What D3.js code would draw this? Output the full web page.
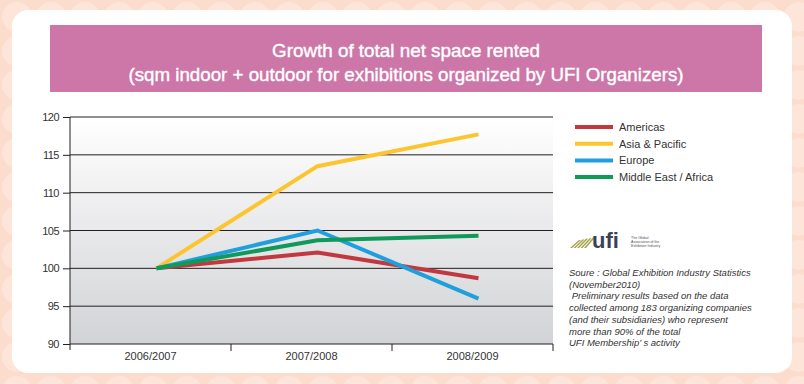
<!DOCTYPE html>
<html>
<head>
<meta charset="utf-8">
<script src="https://cdn.jsdelivr.net/npm/d3@7"></script>
<style>
  html, body { margin: 0; padding: 0; background: #fde1d3; }
  svg { display: block; }
</style>
</head>
<body>
<div id="chart"></div>
<script>
// data
const categories = ["2006/2007", "2007/2008", "2008/2009"];
const americas = [100, 102.1, 98.7];
const asiaPacific = [100, 113.5, 117.7];
const europe = [100, 105.0, 96.0];
const middleEast = [100, 103.7, 104.3];
const yTicks = [90, 95, 100, 105, 110, 115, 120];

const seriesNames = ["Americas", "Asia & Pacific", "Europe", "Middle East / Africa"];
const seriesColors = ["#c1393f", "#fcc52f", "#1fa0dc", "#10995a"];
const seriesValues = [americas, asiaPacific, europe, middleEast];

const sourceLines = [
    "Soure : Global Exhibition Industry Statistics",
    "(November2010)",
    " Preliminary results based on the data",
    "collected among 183 organizing companies",
    "(and their subsidiaries) who represent",
    "more than 90% of the total",
    "UFI Membership\u2019 s activity"
];

const width = 804, height = 384;
const svg = d3.select("#chart").append("svg")
    .attr("width", width)
    .attr("height", height);

const defs = svg.append("defs");

// peach background with faint circles
const pat = defs.append("pattern")
    .attr("id", "dots")
    .attr("width", 34).attr("height", 34)
    .attr("patternUnits", "userSpaceOnUse");
pat.append("rect").attr("width", 34).attr("height", 34).attr("fill", "#fcdccc");
pat.append("circle").attr("cx", 17).attr("cy", 17).attr("r", 15).attr("fill", "#fde5d9");

svg.append("rect")
    .attr("width", width).attr("height", height)
    .attr("fill", "url(#dots)");

// white card
svg.append("rect")
    .attr("x", 12).attr("y", 10)
    .attr("width", 780).attr("height", 363)
    .attr("rx", 16)
    .attr("fill", "#ffffff");

// title banner
svg.append("rect")
    .attr("x", 50).attr("y", 25)
    .attr("width", 712).attr("height", 67)
    .attr("fill", "#cc77a8");

const titleLines = [
    ["Growth of total net space rented", 57, 268],
    ["(sqm indoor + outdoor for exhibitions organized by UFI Organizers)", 81, 555]
];
svg.append("g")
    .selectAll("text")
    .data(titleLines)
    .enter()
    .append("text")
    .attr("x", 406).attr("y", d => d[1])
    .attr("text-anchor", "middle")
    .attr("font-family", "Liberation Sans, Arial, sans-serif")
    .attr("font-size", 19)
    .attr("fill", "#ffffff")
    .attr("stroke", "#ffffff")
    .attr("stroke-width", 0.4)
    .attr("textLength", d => d[2])
    .attr("lengthAdjust", "spacingAndGlyphs")
    .text(d => d[0]);

// plot
const plot = {left: 70, right: 553, top: 117, bottom: 344};

const x = d3.scaleBand()
    .domain(categories)
    .range([plot.left, plot.right]);

const y = d3.scaleLinear()
    .domain([90, 120])
    .range([plot.bottom, plot.top]);

const grad = defs.append("linearGradient")
    .attr("id", "plotbg")
    .attr("x1", "0%").attr("x2", "0%")
    .attr("y1", "0%").attr("y2", "100%");
grad.append("stop").attr("offset", "0%").attr("stop-color", "#ffffff");
grad.append("stop").attr("offset", "100%").attr("stop-color", "#d2d3d6");

svg.append("rect")
    .attr("x", plot.left).attr("y", plot.top)
    .attr("width", plot.right - plot.left)
    .attr("height", plot.bottom - plot.top)
    .attr("fill", "url(#plotbg)");

// gridlines
svg.append("g")
    .selectAll("line")
    .data(yTicks.filter(d => d !== 90))
    .enter()
    .append("line")
    .attr("x1", plot.left).attr("x2", plot.right)
    .attr("y1", d => y(d)).attr("y2", d => y(d))
    .attr("stroke", "#231f20")
    .attr("stroke-width", 1);

// y axis
const yAxis = svg.append("g")
    .attr("transform", `translate(${plot.left},0)`)
    .call(d3.axisLeft(y).tickValues(yTicks).tickSize(7).tickPadding(4));
yAxis.selectAll("path, line").attr("stroke", "#231f20");
yAxis.select(".domain").attr("d", `M0,${plot.top}V${plot.bottom + 6}`);
yAxis.selectAll("text")
    .attr("font-family", "Liberation Sans, Arial, sans-serif")
    .attr("font-size", 11)
    .attr("fill", "#333")
    .attr("letter-spacing", "-0.5");

// x axis
const xAxis = svg.append("g")
    .attr("transform", `translate(0,${plot.bottom})`)
    .call(d3.axisBottom(x).tickSize(0).tickPadding(6));
xAxis.select(".domain").attr("d", `M${plot.left},0H${plot.right}`).attr("stroke", "#231f20");
xAxis.selectAll("text")
    .attr("font-family", "Liberation Sans, Arial, sans-serif")
    .attr("font-size", 11)
    .attr("fill", "#333")
    .attr("dy", "0.9em");
xAxis.selectAll(".sep")
    .data(categories.slice(1).concat(["end"]))
    .enter()
    .append("line")
    .attr("x1", (d, i) => plot.left + x.bandwidth() * (i + 1))
    .attr("x2", (d, i) => plot.left + x.bandwidth() * (i + 1))
    .attr("y1", 0).attr("y2", 7)
    .attr("stroke", "#231f20");

// lines
const px = d => x(d) + x.bandwidth() / 2 + 6;
const line = d3.line()
    .x((d, i) => px(categories[i]))
    .y(d => y(d));

svg.append("g")
    .selectAll("path")
    .data(seriesValues)
    .enter()
    .append("path")
    .attr("d", d => line(d))
    .attr("fill", "none")
    .attr("stroke", (d, i) => seriesColors[i])
    .attr("stroke-width", 4)
    .attr("stroke-linejoin", "miter");

// legend
const legend = svg.append("g").attr("transform", "translate(575,127)");
const item = legend.selectAll("g")
    .data(seriesNames)
    .enter()
    .append("g")
    .attr("transform", (d, i) => `translate(0,${i * 16.7})`);
item.append("line")
    .attr("x1", 0).attr("x2", 38)
    .attr("stroke", (d, i) => seriesColors[i])
    .attr("stroke-width", 4);
item.append("text")
    .attr("x", 44).attr("y", 4)
    .attr("font-family", "Liberation Sans, Arial, sans-serif")
    .attr("font-size", 11)
    .attr("fill", "#333")
    .text(d => d);

// ufi logo
const logo = svg.append("g").attr("transform", "translate(570,236)");
for (let i = 0; i < 5; i++) {
    logo.append("path")
        .attr("d", `M${i * 3.5},12 L${9 + i * 3.5},${4 - i * 0.6} L${11 + i * 3.5},${4 - i * 0.6} L${2 + i * 3.5},12 Z`)
        .attr("fill", "#a8a24a");
}
logo.append("text")
    .attr("x", 22).attr("y", 12)
    .attr("font-family", "Liberation Sans, Arial, sans-serif")
    .attr("font-size", 22)
    .attr("font-weight", "bold")
    .attr("fill", "#3b3f58")
    .text("ufi");
["The Global", "Association of the", "Exhibition Industry"].forEach((t, i) => {
    logo.append("text")
        .attr("x", 61).attr("y", 3 + i * 4)
        .attr("font-family", "Liberation Sans, Arial, sans-serif")
        .attr("font-size", 3.6)
        .attr("fill", "#555")
        .text(t);
});

// source note
svg.append("g")
    .selectAll("text")
    .data(sourceLines)
    .enter()
    .append("text")
    .attr("x", 569)
    .attr("y", (d, i) => 276 + i * 11.7)
    .attr("font-family", "Liberation Sans, Arial, sans-serif")
    .attr("font-size", 9.5)
    .attr("font-style", "italic")
    .attr("fill", "#333")
    .attr("xml:space", "preserve")
    .text(d => d);
</script>
</body>
</html>
